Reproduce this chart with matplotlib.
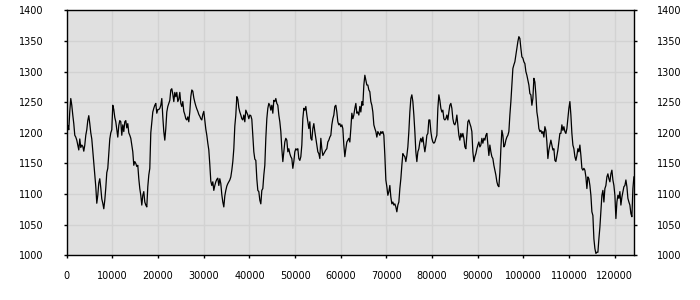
import numpy as np
import matplotlib
matplotlib.use("Agg")
import matplotlib.pyplot as plt

# Sampling step along x (data units per sample)
x_step = 219

values_a = [1203, 1212, 1205, 1235, 1256, 1245, 1229, 1215, 1196, 1193, 1188, 1180, 1172, 1190, 1176, 1180,
            1178, 1170, 1180, 1196, 1205, 1220, 1228, 1215, 1200, 1190, 1170, 1150, 1128, 1112, 1085, 1098,
            1118, 1125, 1110, 1092, 1085, 1076, 1090, 1110, 1135, 1142, 1165, 1190, 1200, 1205, 1245, 1238,
            1225, 1218, 1205, 1193, 1212, 1220, 1218, 1196, 1213, 1202, 1218, 1220, 1208, 1215, 1200, 1196,
            1191, 1180, 1169, 1147, 1153, 1150, 1145, 1147, 1125, 1109, 1098, 1082, 1098, 1104, 1087, 1082,
            1079, 1112, 1131, 1142, 1200, 1218, 1234, 1240, 1245, 1248, 1232, 1238, 1238, 1240]

values_b = [1245, 1256, 1226, 1202, 1188, 1207, 1234, 1243, 1248, 1253, 1270, 1272, 1263, 1251, 1266, 1259,
            1266, 1251, 1255, 1266, 1248, 1243, 1251, 1235, 1230, 1223, 1221, 1226, 1218, 1234, 1259, 1270,
            1268, 1257, 1250, 1244, 1239, 1235, 1230, 1227, 1223, 1221, 1230, 1235, 1221, 1206, 1196, 1183,
            1172, 1148, 1121, 1114, 1120, 1106, 1114, 1120, 1124, 1126, 1114, 1125, 1117, 1099, 1087, 1079,
            1097, 1106, 1113, 1117, 1120, 1123, 1128, 1139, 1153, 1174, 1211, 1229, 1259, 1255, 1241, 1234,
            1229, 1223, 1221, 1229, 1218, 1237, 1233, 1229, 1223, 1229, 1228, 1222, 1195, 1169, 1157]

values_c = [1155, 1125, 1106, 1104, 1090, 1084, 1106, 1109, 1131, 1147, 1191, 1223, 1240, 1248, 1245, 1237,
            1245, 1232, 1253, 1251, 1256, 1248, 1245, 1229, 1218, 1202, 1174, 1153, 1169, 1185, 1191, 1188,
            1169, 1174, 1166, 1161, 1158, 1142, 1153, 1169, 1174, 1172, 1174, 1158, 1155, 1161, 1180, 1223,
            1240, 1237, 1243, 1229, 1218, 1207, 1218, 1191, 1188, 1207, 1215, 1202, 1191, 1180, 1169, 1166,
            1158, 1191, 1174, 1163, 1166, 1169, 1172, 1174, 1185, 1188, 1193, 1196, 1213, 1223, 1229, 1243,
            1245, 1234, 1218, 1213, 1215, 1210, 1213, 1207, 1180, 1161, 1174, 1185, 1188, 1191, 1185]

values_d = [1207, 1232, 1223, 1229, 1240, 1248, 1232, 1234, 1229, 1243, 1234, 1251, 1245, 1278, 1294, 1286,
            1278, 1278, 1270, 1267, 1251, 1245, 1234, 1213, 1207, 1202, 1193, 1202, 1199, 1196, 1202, 1199,
            1202, 1196, 1163, 1123, 1112, 1098, 1104, 1114, 1095, 1084, 1087, 1082, 1084, 1079, 1071, 1082,
            1087, 1109, 1125, 1147, 1166, 1163, 1161, 1153, 1163, 1177, 1202, 1234, 1256, 1262, 1251, 1229,
            1202, 1169, 1153, 1169, 1174, 1185, 1191, 1185, 1193, 1180, 1169, 1180, 1196, 1199, 1221, 1221,
            1202, 1191, 1185, 1183, 1185, 1191, 1196, 1240, 1262, 1253, 1240, 1234, 1237, 1223, 1221]

values_e = [1223, 1229, 1221, 1234, 1245, 1248, 1240, 1223, 1215, 1213, 1218, 1229, 1213, 1196, 1188, 1199,
            1193, 1199, 1191, 1177, 1174, 1196, 1218, 1221, 1215, 1210, 1202, 1169, 1153, 1161, 1166, 1174,
            1180, 1185, 1177, 1180, 1191, 1183, 1191, 1188, 1196, 1199, 1180, 1163, 1180, 1169, 1161, 1158,
            1147, 1139, 1131, 1120, 1114, 1112, 1136, 1174, 1204, 1196, 1177, 1180, 1188, 1193, 1196, 1202,
            1229, 1251, 1278, 1305, 1311, 1316, 1327, 1338, 1349, 1357, 1354, 1338, 1324, 1322, 1316, 1313,
            1300, 1294, 1286, 1278, 1264, 1262, 1245, 1256, 1289, 1283, 1262, 1234, 1223, 1207, 1202]

values_f = [1204, 1199, 1202, 1193, 1210, 1204, 1185, 1158, 1172, 1180, 1188, 1180, 1172, 1174, 1155, 1153,
            1163, 1172, 1185, 1199, 1199, 1213, 1204, 1210, 1202, 1199, 1207, 1223, 1240, 1251, 1229, 1199,
            1180, 1174, 1161, 1155, 1163, 1174, 1169, 1180, 1163, 1142, 1139, 1142, 1139, 1128, 1109, 1128,
            1125, 1114, 1098, 1071, 1065, 1027, 1011, 1003, 1005, 1005, 1027, 1046, 1071, 1098, 1106, 1087,
            1109, 1114, 1128, 1133, 1125, 1120, 1133, 1139, 1123, 1114, 1098, 1060, 1087, 1098, 1093, 1104,
            1082, 1095, 1104, 1112, 1114, 1123, 1112, 1093, 1087, 1082, 1068, 1063, 1109, 1128]

y_values = values_a + values_b + values_c + values_d + values_e + values_f
x_values = np.arange(len(y_values)) * x_step

x_ticks = [0, 10000, 20000, 30000, 40000, 50000, 60000, 70000, 80000, 90000, 100000, 110000, 120000]
y_ticks = [1000, 1050, 1100, 1150, 1200, 1250, 1300, 1350, 1400]

fig = plt.figure(figsize=(7, 3), dpi=100)
ax = fig.add_axes([0.0954, 0.149, 0.8110, 0.8166])
ax.set_facecolor("#e0e0e0")
ax.plot(x_values, y_values, color="black", linewidth=0.9)
ax.set_xlim(0, 124300)
ax.set_ylim(1000, 1400)
ax.set_xticks(x_ticks)
ax.set_yticks(y_ticks)
ax.set_xticklabels([str(t) for t in x_ticks])
ax.grid(True, color="#d2d2d2", linewidth=1.0)
ax.set_axisbelow(True)
for s in ax.spines.values():
    s.set_color("black")
    s.set_linewidth(1.0)
ax.tick_params(axis="x", direction="out", length=2.5, width=1, pad=9, labelsize=7, top=False)
ax.tick_params(axis="y", direction="out", length=2.5, width=1, pad=14, labelsize=7,
               left=True, right=True, labelleft=True, labelright=True)
ax.tick_params(axis="y", which="both", right=True)
# right side label pad slightly smaller
for lbl in ax.get_yticklabels():
    pass

fig.savefig("out.png", dpi=100, facecolor="white")
